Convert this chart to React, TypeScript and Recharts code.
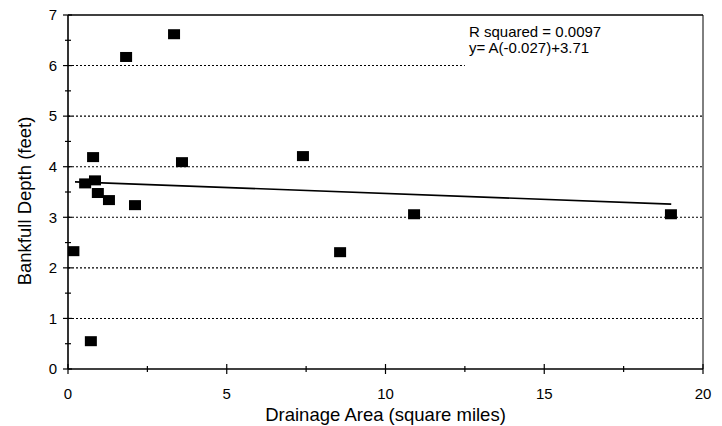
import React from 'react';
import { ScatterChart, Scatter, XAxis, YAxis, ReferenceLine, Customized } from 'recharts';

const areaValues = [0.17, 0.54, 0.72, 0.79, 0.85, 0.94, 1.29, 1.83, 2.11, 3.34, 3.59, 7.4, 8.57, 10.9, 18.99];
const depthValues = [2.33, 3.67, 0.55, 4.19, 3.73, 3.48, 3.34, 6.17, 3.24, 6.62, 4.09, 4.21, 2.31, 3.06, 3.06];
const fitX = [0.22, 19];
const fitY = [3.7, 3.26];
const xTicks = [0, 2.5, 5, 7.5, 10, 12.5, 15, 17.5, 20];
const yTicks = [0, 0.5, 1, 1.5, 2, 2.5, 3, 3.5, 4, 4.5, 5, 5.5, 6, 6.5, 7];
const gridFull = [1, 2, 3, 4, 5];
const gridShort = { y: 6, xEnd: 12.5 };
const annotation = ['R squared = 0.0097', 'y= A(-0.027)+3.71'];

const points = areaValues.map((x, i) => ({ x, y: depthValues[i] }));
const fit = fitX.map((x, i) => ({ x, y: fitY[i] }));

const FONT = '"Liberation Sans", Arial, sans-serif';

const Square = (p: any) => (
  <rect x={p.cx - 6} y={p.cy - 5} width={12} height={10} fill="#000" />
);

const Annotation = () => (
  <g>
    <text x={469} y={37} fontSize={15} fontFamily={FONT} fill="#000">{annotation[0]}</text>
    <text x={469} y={53} fontSize={15} fontFamily={FONT} fill="#000">{annotation[1]}</text>
  </g>
);

// y tick: props x is label anchor (axis - 11)
const YTick = (p: any) => {
  const v = p.payload.value;
  const ax = p.x + 11;
  const major = Number.isInteger(v);
  return (
    <g>
      <line x1={major ? ax - 5 : ax - 3} x2={major ? ax + 4 : ax + 3} y1={p.y} y2={p.y} stroke="#000" strokeWidth={1.2} />
      {major && (
        <text x={p.x} y={p.y} dy="0.355em" textAnchor="end" fontSize={15} fontFamily={FONT} fill="#000">{v}</text>
      )}
    </g>
  );
};

// x tick: props y is label top (axis + 19)
const XTick = (p: any) => {
  const v = p.payload.value;
  const ay = p.y - 19;
  const major = v % 5 === 0;
  return (
    <g>
      <line x1={p.x} x2={p.x} y1={major ? ay - 5 : ay - 3} y2={major ? ay + 5 : ay + 3} stroke="#000" strokeWidth={1.2} />
      {major && (
        <text x={p.x} y={p.y} dy="0.71em" textAnchor="middle" fontSize={15} fontFamily={FONT} fill="#000">{v}</text>
      )}
    </g>
  );
};

export default function App() {
  return (
    <div style={{ position: 'absolute', left: 0, top: 0, background: '#fff' }}>
      <ScatterChart width={722} height={426} margin={{ top: 15, right: 19, bottom: 0, left: 0 }}>
        <XAxis
          type="number"
          dataKey="x"
          domain={[0, 20]}
          ticks={xTicks}
          interval={0}
          allowDataOverflow
          height={57}
          tickSize={5}
          tickMargin={14}
          tick={XTick}
          tickLine={false}
          axisLine={{ stroke: '#000', strokeWidth: 1.6 }}
          label={{
            content: (props: any) => {
              const vb = props.viewBox || {};
              return (
                <text x={vb.x + vb.width / 2} y={vb.y + 52} textAnchor="middle" fontSize={18.5} fontFamily={FONT} fill="#000">
                  Drainage Area (square miles)
                </text>
              );
            },
          }}
        />
        <YAxis
          type="number"
          dataKey="y"
          domain={[0, 7]}
          ticks={yTicks}
          interval={0}
          allowDataOverflow
          width={68}
          tickSize={5}
          tickMargin={6}
          tick={YTick}
          tickLine={false}
          axisLine={{ stroke: '#000', strokeWidth: 1.6 }}
          label={{
            content: (props: any) => {
              const vb = props.viewBox || {};
              const cx = 31;
              const cy = vb.y + vb.height / 2 + 9;
              return (
                <text x={cx} y={cy} transform={`rotate(-90, ${cx}, ${cy})`} textAnchor="middle" fontSize={18.5} fontFamily={FONT} fill="#000">
                  Bankfull Depth (feet)
                </text>
              );
            },
          }}
        />
        {gridFull.map((v) => (
          <ReferenceLine key={v} y={v} stroke="#000" strokeWidth={1.1} strokeDasharray="2 2" />
        ))}
        <ReferenceLine
          segment={[{ x: 0, y: gridShort.y }, { x: gridShort.xEnd, y: gridShort.y }]}
          stroke="#000"
          strokeWidth={1.1}
          strokeDasharray="2 2"
        />
        <ReferenceLine y={7} stroke="#000" strokeWidth={1.6} />
        <ReferenceLine x={20} stroke="#000" strokeWidth={1} />
        <Scatter data={fit} line={{ stroke: '#000', strokeWidth: 1.6 }} shape={() => <g />} isAnimationActive={false} />
        <Scatter data={points} shape={Square} isAnimationActive={false} />
        <Customized component={Annotation} />
      </ScatterChart>
    </div>
  );
}
